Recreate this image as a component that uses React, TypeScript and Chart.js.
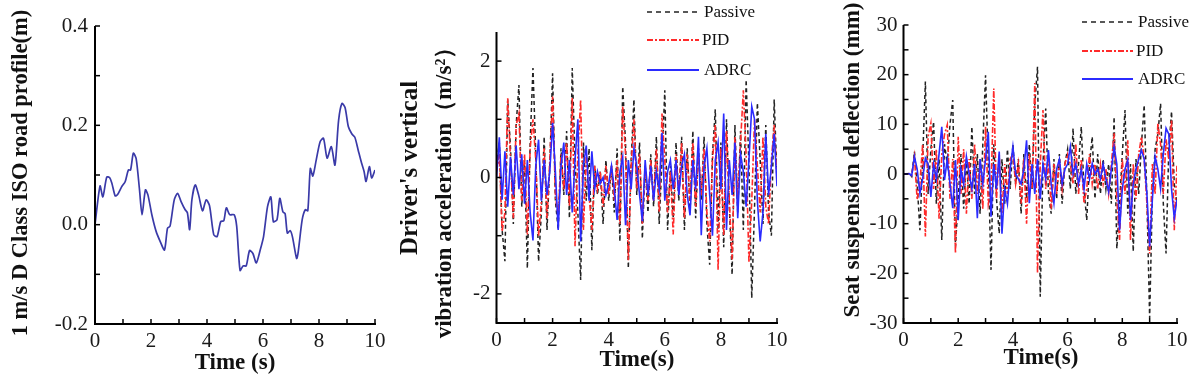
import React, { useEffect, useRef } from "react";
import { Chart, registerables } from "chart.js";

Chart.register(...registerables);

const SERIF = "'Liberation Serif', 'Times New Roman', Times, serif";

// ---------- Panel 1: road profile ----------
const ROAD_T = [0, 0.18, 0.28, 0.42, 0.52, 0.6, 0.72, 0.8, 0.95, 1.08, 1.19, 1.27, 1.37, 1.47, 1.59, 1.68, 1.8, 1.89, 2.03, 2.18, 2.33, 2.48, 2.59, 2.68, 2.83, 2.95, 3.07, 3.22, 3.3, 3.38, 3.46, 3.58, 3.7, 3.84, 3.97, 4.09, 4.24, 4.36, 4.49, 4.6, 4.69, 4.81, 4.97, 5.06, 5.18, 5.29, 5.4, 5.52, 5.64, 5.76, 5.9, 6.02, 6.16, 6.28, 6.37, 6.5, 6.6, 6.71, 6.79, 6.87, 6.97, 7.05, 7.2, 7.25, 7.4, 7.51, 7.6, 7.69, 7.78, 7.9, 8.04, 8.16, 8.29, 8.44, 8.57, 8.7, 8.82, 8.93, 9.05, 9.17, 9.28, 9.4, 9.52, 9.61, 9.68, 9.8, 9.88, 10.0];
const ROAD_V = [0.0, 0.078, 0.056, 0.096, 0.095, 0.084, 0.058, 0.06, 0.076, 0.087, 0.11, 0.11, 0.144, 0.133, 0.07, 0.02, 0.07, 0.06, 0.02, -0.013, -0.034, -0.051, -0.007, -0.003, 0.05, 0.063, 0.047, 0.03, 0.024, -0.01, 0.05, 0.08, 0.06, 0.028, 0.05, 0.038, -0.02, -0.024, 0.006, 0.008, 0.034, 0.02, 0.02, -0.003, -0.092, -0.083, -0.083, -0.052, -0.058, -0.077, -0.051, -0.024, 0.036, 0.056, 0.006, 0.01, 0.053, 0.026, 0.022, -0.017, -0.012, -0.024, -0.068, -0.058, 0.01, 0.03, 0.028, 0.113, 0.098, 0.13, 0.167, 0.174, 0.134, 0.157, 0.12, 0.21, 0.244, 0.236, 0.197, 0.183, 0.176, 0.15, 0.124, 0.107, 0.087, 0.117, 0.094, 0.11];

// ---------- Shared time base for panels 2 & 3 ----------
const TIME = [0, 0.1, 0.2, 0.3, 0.4, 0.5, 0.6, 0.7, 0.8, 0.9, 1, 1.1, 1.2, 1.3, 1.4, 1.5, 1.6, 1.7, 1.8, 1.9, 2, 2.1, 2.2, 2.3, 2.4, 2.5, 2.6, 2.7, 2.8, 2.9, 3, 3.1, 3.2, 3.3, 3.4, 3.5, 3.6, 3.7, 3.8, 3.9, 4, 4.1, 4.2, 4.3, 4.4, 4.5, 4.6, 4.7, 4.8, 4.9, 5, 5.1, 5.2, 5.3, 5.4, 5.5, 5.6, 5.7, 5.8, 5.9, 6, 6.1, 6.2, 6.3, 6.4, 6.5, 6.6, 6.7, 6.8, 6.9, 7, 7.1, 7.2, 7.3, 7.4, 7.5, 7.6, 7.7, 7.8, 7.9, 8, 8.1, 8.2, 8.3, 8.4, 8.5, 8.6, 8.7, 8.8, 8.9, 9, 9.1, 9.2, 9.3, 9.4, 9.5, 9.6, 9.7, 9.8, 9.9, 10];

// ---------- Panel 2: driver's vertical vibration acceleration (m/s^2) ----------
const ACC_PASSIVE = [0.2, 0.6, -0.9, -1.44, 1.34, 0.5, -0.8, 0.9, 1.59, -0.5, 0.3, -1.56, 0.6, 1.88, 0.4, -1.44, -0.6, 0.7, -0.9, 0.2, 1.79, -0.4, -0.9, 0.5, -0.3, 0.8, -0.7, 1.88, 0.3, -0.6, -1.76, 0.6, -0.4, 0.5, -1.25, 0.2, -0.3, 0.1, -0.8, 0.3, -0.4, 0.2, -0.6, 0.5, -1.1, 1.56, 0.6, -1.56, 0.3, 1.34, -0.3, 0.6, -1.05, 0.2, -0.6, 0.4, -0.5, 0.7, -0.8, 0.3, 1.5, -0.9, 0.2, -0.7, 0.6, -0.4, 0.7, -0.9, 0.5, -0.6, 0.8, -0.7, 0.5, -0.4, 0.7, -0.8, -1.5, 0.4, 1.17, -0.9, 0.6, -1.2, 1.0, -0.5, -1.67, 0.9, -0.6, 0.8, -0.9, 1.68, 0.2, -2.07, -0.5, 1.28, 0.3, -0.8, 0.9, -0.6, -1.0, 1.34, 0.0];
const ACC_PID = [0.1, 0.4, -0.93, -0.6, 1.36, 0.3, -0.7, 0.9, 1.1, -0.4, 0.4, -0.98, 0.5, 1.0, 0.3, -1.0, -0.4, 0.5, -0.7, 0.3, 1.39, -0.3, -0.7, 0.4, -0.2, 0.6, -0.5, 1.37, -1.18, 0.4, 1.34, -0.9, 0.4, -0.3, -0.9, 0.2, -0.2, 0.1, -0.5, 0.2, -0.3, 0.2, -0.4, 0.3, -0.8, 1.22, 0.4, -1.42, 0.2, 1.0, -0.2, 0.4, -0.8, 0.2, -0.4, 0.3, -0.4, 0.5, -0.6, 1.1, 0.3, -0.6, 0.1, -0.98, 0.4, -0.3, 0.6, -0.7, 0.4, -0.4, 0.6, -0.5, 0.4, -0.3, 0.5, -0.6, -1.1, 0.3, 0.9, -1.59, 0.5, -1.0, 0.8, -0.4, -1.41, 0.7, -0.4, 0.6, 1.5, 0.4, -1.46, -0.4, 1.0, 0.2, -0.6, 0.7, -0.5, -0.8, 0.3, 0.9, 0.0];
const ACC_ADRC = [0.0, 0.69, -0.38, 0.45, -0.5, 0.35, -0.3, 0.55, -0.2, 0.4, -0.45, 0.3, -0.6, -1.08, 0.2, 0.65, -0.4, 0.3, -0.3, 0.1, 0.94, 0.1, -0.9, 0.2, 0.6, -0.3, 0.3, -0.6, 0.3, 1.0, -1.1, 0.2, 0.55, -0.4, 0.45, -0.2, 0.1, -0.1, 0.0, -0.3, -0.1, 0.2, -0.2, -0.73, 0.1, 0.35, -0.82, 0.3, -0.2, 0.5, 0.2, -0.3, -0.75, 0.3, -0.3, 0.2, -0.4, 0.1, -0.2, 0.77, -0.4, 0.1, 0.3, -0.2, 0.3, -0.3, 0.2, 0.4, -0.3, -0.65, 0.3, -0.2, 0.7, -0.99, 0.2, 0.5, -0.3, -1.0, 0.3, 0.6, -0.2, 1.1, -0.9, 0.3, -0.3, 0.6, -0.7, 0.4, 0.1, -0.5, 0.3, 1.22, 1.0, -0.4, -1.1, -0.6, 0.75, -0.3, 0.2, 0.75, -0.15];

// ---------- Panel 3: seat suspension deflection (mm) ----------
const DEF_PASSIVE = [0, 0, 0.2, -0.5, 4.5, -2, -11.3, 3, 18.6, -4, 5, 10.5, -6, 3, -13.3, 6, 2, 10, 14.9, -14.6, -5, 4, -7, 3, -6, 9.5, -4, 4, -8, 6, 19.9, 2, -19.3, 6, -5, -12, 3, -6, 5, -3, 6, -2, 3, -8, 4, -5, 6, -3, 14, 21.6, -24.7, 2, 13.2, -4, -8, 3, -5, 4, -6, 2, 5, -3, 9.2, -4, 2, 9.5, -3, -9.3, 2, 7.5, -5, 4, -4, 3, -3, 2, -6, 11.5, -15, -6, 4, 12.9, -8, 2, -15.6, 3, -4, 6, 13.9, -5, -29, -4, 5, 8, 14.2, -6, -16, 5, 12.6, -2, -6];
const DEF_PID = [0, 0, 0.1, -0.3, 3.5, -5.2, -2, 6, -12.6, 7.5, 10.2, -3, 5, -9, 4, 8, 9.9, -5, 3, -16, 7.5, -4, 5, -8, 3, -5, 6, -4, 3, -7, 9.5, -6, -3, 17.2, -5, 4, -8, 2, -4, 3, 4, -2, 2, -6, 3, -10, 4, -3, 18.3, -20, 2, 12.9, -3, 3, -7, 2, -4, 3, -3, 2, 4, 2, -2, 6, -4, 3, -5.9, -3, 4, -2, 2, -3, 2, -2, 1, -4, 2, 8.2, -5, -13.3, 3, -4, 6.8, -13.3, 2, -5, 4, 7.5, 3, -6, -16, 2, -4, 10.2, 6, -4, 7, 3, 10.9, -11.3, 2];
const DEF_ADRC = [0, 0, 0.1, -0.3, 3.5, 1, -3.9, -1, 3.2, 2, -4.6, 2, -1, 4, 9.5, -1.2, 3, -2, -6.9, 2.8, -9.3, 1, -2, 3.5, 0, -3, 2, -8.9, 3, -2, 3, 8.5, -8.6, 2, -3, 4.5, -12, -3, -6, 1, 5.5, 0, -1, -2, 1, 6.8, -5.9, 2, -4, 3, -5, 2, -1, 4.8, -2, -5.9, 1, 3, -2, 1, 2, 5.5, 0, 2, -2, 1, -3, 2, -1, 2.1, 0, 1, -1, 2, -1, -3.6, 1, 5.5, 2, -11.3, -3, 1, 2.8, -9.3, -2, 1, 3, 4.8, 3, -4, -14.6, -5, 3.5, 1, -3, 4, 9.2, 8, -3, -8.9, -5.2];

const SERIES_LABELS = ["Passive", "PID", "ADRC"];

const COLOR_PASSIVE = "#222222";
const COLOR_PID = "#ff2a2a";
const COLOR_ADRC = "#2b2bff";
const COLOR_ROAD = "#3a3aa8";

type TextItem = {
  text: string;
  x: number;
  y: number;
  rot?: boolean;
  font: string;
  baseline?: CanvasTextBaseline;
};

type LegendItem = {
  label: string;
  color: string;
  dash: number[];
  width: number;
  x1: number;
  x2: number;
  tx: number;
  y: number;
};

function onStep(v: number, step: number) {
  const r = Math.round(v / step) * step;
  return Math.abs(v - r) < 1e-6;
}

function overlayPlugin(texts: TextItem[], legend: LegendItem[], xStep: number, yStep: number) {
  return {
    id: "overlay",
    afterDraw(chart: any) {
      const { ctx, chartArea: a, scales } = chart;
      ctx.save();
      ctx.strokeStyle = "#000";
      ctx.setLineDash([]);
      ctx.lineWidth = 1.5;
      const xs = scales.x;
      const ys = scales.y;
      xs.ticks.forEach((t: any) => {
        if (!onStep(t.value, xStep)) return;
        const px = xs.getPixelForValue(t.value);
        ctx.beginPath();
        ctx.moveTo(px, a.bottom);
        ctx.lineTo(px, a.bottom - 5);
        ctx.stroke();
      });
      ys.ticks.forEach((t: any) => {
        if (!onStep(t.value, yStep)) return;
        const py = ys.getPixelForValue(t.value);
        ctx.beginPath();
        ctx.moveTo(a.left, py);
        ctx.lineTo(a.left + 5, py);
        ctx.stroke();
      });
      ctx.lineWidth = 2;
      ctx.beginPath();
      ctx.moveTo(a.left, a.top);
      ctx.lineTo(a.left, a.bottom);
      ctx.lineTo(a.right + 1, a.bottom);
      ctx.stroke();

      // legend
      legend.forEach((l) => {
        ctx.strokeStyle = l.color;
        ctx.lineWidth = l.width;
        ctx.setLineDash(l.dash);
        ctx.beginPath();
        ctx.moveTo(l.x1, l.y);
        ctx.lineTo(l.x2, l.y);
        ctx.stroke();
        ctx.setLineDash([]);
        ctx.fillStyle = "#111";
        ctx.font = `17px ${SERIF}`;
        ctx.textAlign = "left";
        ctx.textBaseline = "middle";
        ctx.fillText(l.label, l.tx, l.y + 1);
      });

      // titles
      texts.forEach((t) => {
        ctx.save();
        ctx.fillStyle = "#111";
        ctx.font = t.font;
        ctx.textAlign = "center";
        ctx.textBaseline = t.baseline || "middle";
        ctx.translate(t.x, t.y);
        if (t.rot) ctx.rotate(-Math.PI / 2);
        ctx.fillText(t.text, 0, 0);
        ctx.restore();
      });
      ctx.restore();
    },
  };
}

type PanelSpec = {
  area: { left: number; right: number; top: number; bottom: number };
  datasets: any[];
  yMin: number;
  yMax: number;
  yTickStep: number;
  yMarkStep: number;
  yLabel: (v: number) => string;
  yPad: number;
  texts: TextItem[];
  legend: LegendItem[];
};

function makeConfig(spec: PanelSpec): any {
  const { area } = spec;
  return {
    type: "line",
    data: { datasets: spec.datasets },
    options: {
      animation: false,
      responsive: false,
      devicePixelRatio: 1,
      events: [],
      layout: { padding: { left: 0, right: 400 - area.right, top: area.top, bottom: 0 } },
      plugins: { legend: { display: false }, tooltip: { enabled: false }, title: { display: false } },
      elements: { point: { radius: 0 } },
      scales: {
        x: {
          type: "linear",
          min: 0,
          max: 10,
          afterFit: (s: any) => {
            s.height = 379 - area.bottom;
          },
          grid: { display: false, drawTicks: false },
          border: { display: false },
          ticks: {
            stepSize: 1,
            autoSkip: false,
            maxRotation: 0,
            minRotation: 0,
            padding: 5,
            color: "#1a1a1a",
            font: { family: SERIF, size: 21 },
            callback: (v: number) => (onStep(v, 2) ? String(Math.round(v)) : ""),
          },
        },
        y: {
          type: "linear",
          min: spec.yMin,
          max: spec.yMax,
          afterFit: (s: any) => {
            s.width = area.left;
          },
          grid: { display: false, drawTicks: false },
          border: { display: false },
          ticks: {
            stepSize: spec.yTickStep,
            autoSkip: false,
            padding: spec.yPad,
            color: "#1a1a1a",
            font: { family: SERIF, size: 21 },
            callback: spec.yLabel,
          },
        },
      },
    },
    plugins: [overlayPlugin(spec.texts, spec.legend, 1, spec.yMarkStep)],
  };
}

function toXY(xs: number[], ys: number[]) {
  return xs.map((x, i) => ({ x, y: ys[i] }));
}

function threeSeries(passive: number[], pid: number[], adrc: number[]) {
  return [
    {
      label: SERIES_LABELS[2],
      data: toXY(TIME, adrc),
      borderColor: COLOR_ADRC,
      borderWidth: 1.6,
      order: 0,
    },
    {
      label: SERIES_LABELS[1],
      data: toXY(TIME, pid),
      borderColor: COLOR_PID,
      borderWidth: 1.6,
      borderDash: [6, 2, 2, 2],
      order: 1,
    },
    {
      label: SERIES_LABELS[0],
      data: toXY(TIME, passive),
      borderColor: COLOR_PASSIVE,
      borderWidth: 1.5,
      borderDash: [4, 3],
      order: 2,
    },
  ];
}

function legendItems(x1: number, x2: number, tx: number, ys: number[]): LegendItem[] {
  return [
    { label: SERIES_LABELS[0], color: COLOR_PASSIVE, dash: [5, 4], width: 1.5, x1, x2, tx, y: ys[0] },
    { label: SERIES_LABELS[1], color: COLOR_PID, dash: [6, 2, 2, 2], width: 1.8, x1, x2, tx: tx - 2, y: ys[1] },
    { label: SERIES_LABELS[2], color: COLOR_ADRC, dash: [], width: 2.2, x1, x2, tx, y: ys[2] },
  ];
}

const TITLE_FONT = `bold 22.5px ${SERIF}`;
const XTITLE_FONT = `bold 23px ${SERIF}`;

const PANELS: { left: number; spec: PanelSpec }[] = [
  {
    left: 0,
    spec: {
      area: { left: 95, right: 375, top: 26, bottom: 324 },
      datasets: [
        {
          label: "road",
          data: toXY(ROAD_T, ROAD_V),
          borderColor: COLOR_ROAD,
          borderWidth: 1.7,
          tension: 0.25,
        },
      ],
      yMin: -0.2,
      yMax: 0.4,
      yTickStep: 0.1,
      yMarkStep: 0.1,
      yPad: 7,
      yLabel: (v: number) => {
        const k = Math.round(v * 10);
        return k % 2 === 0 ? (k / 10).toFixed(1) : "";
      },
      texts: [
        { text: "1 m/s D Class ISO road profile(m)", x: 21, y: 173, rot: true, font: TITLE_FONT },
        { text: "Time (s)", x: 235, y: 369, font: XTITLE_FONT, baseline: "alphabetic" },
      ],
      legend: [],
    },
  },
  {
    left: 400,
    spec: {
      area: { left: 96.5, right: 377, top: 32, bottom: 323 },
      datasets: threeSeries(ACC_PASSIVE, ACC_PID, ACC_ADRC),
      yMin: -2.5,
      yMax: 2.5,
      yTickStep: 0.5,
      yMarkStep: 1,
      yPad: 6,
      yLabel: (v: number) => (onStep(v, 2) ? String(Math.round(v)) : ""),
      texts: [
        { text: "Driver's vertical", x: 11, y: 168, rot: true, font: `bold 25px ${SERIF}` },
        { text: "vibration acceleration（m/s²）", x: 45, y: 187, rot: true, font: `bold 23px ${SERIF}` },
        { text: "Time(s)", x: 237, y: 366, font: XTITLE_FONT, baseline: "alphabetic" },
      ],
      legend: legendItems(247, 299, 304, [12, 40, 70]),
    },
  },
  {
    left: 800,
    spec: {
      area: { left: 103.5, right: 377, top: 25, bottom: 323 },
      datasets: threeSeries(DEF_PASSIVE, DEF_PID, DEF_ADRC),
      yMin: -30,
      yMax: 30,
      yTickStep: 5,
      yMarkStep: 5,
      yPad: 6,
      yLabel: (v: number) => (onStep(v, 10) ? String(Math.round(v)) : ""),
      texts: [
        { text: "Seat suspension deflection (mm)", x: 53, y: 160, rot: true, font: `bold 23px ${SERIF}` },
        { text: "Time(s)", x: 241, y: 364, font: XTITLE_FONT, baseline: "alphabetic" },
      ],
      legend: legendItems(282, 333, 338, [22, 51, 79]),
    },
  },
];

function Panel({ left, spec }: { left: number; spec: PanelSpec }) {
  const ref = useRef<HTMLCanvasElement | null>(null);
  useEffect(() => {
    if (!ref.current) return;
    const chart = new Chart(ref.current, makeConfig(spec));
    return () => chart.destroy();
  }, []);
  return (
    <canvas
      ref={ref}
      width={400}
      height={379}
      style={{ position: "absolute", left, top: 0, width: 400, height: 379 }}
    />
  );
}

export default function App() {
  return (
    <div
      style={{
        position: "fixed",
        left: 0,
        top: 0,
        width: 1200,
        height: 379,
        background: "#fff",
        overflow: "hidden",
      }}
    >
      {PANELS.map((p, i) => (
        <Panel key={i} left={p.left} spec={p.spec} />
      ))}
    </div>
  );
}
